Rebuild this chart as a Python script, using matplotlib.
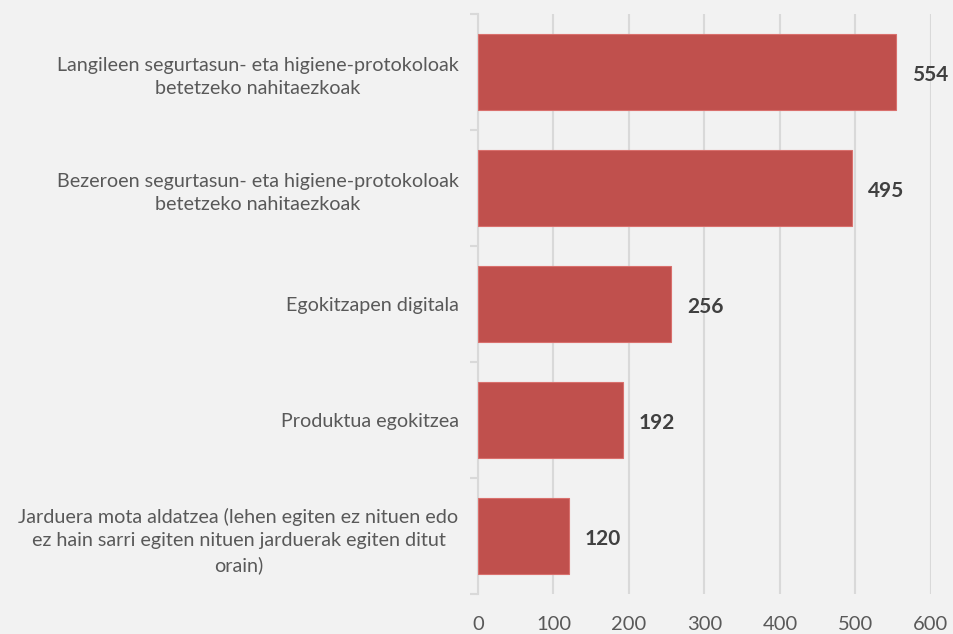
import matplotlib
matplotlib.use("Agg")
import matplotlib.pyplot as plt
from matplotlib.ticker import FixedLocator

categories = [
    "Langileen segurtasun- eta higiene-protokoloak\nbetetzeko nahitaezkoak",
    "Bezeroen segurtasun- eta higiene-protokoloak\nbetetzeko nahitaezkoak",
    "Egokitzapen digitala",
    "Produktua egokitzea",
    "Jarduera mota aldatzea (lehen egiten ez nituen edo\nez hain sarri egiten nituen jarduerak egiten ditut\norain)",
]
values = [554, 495, 256, 192, 120]
xticks = [0, 100, 200, 300, 400, 500, 600]

plt.rcParams['font.family'] = ['Lato', 'DejaVu Sans']
bg = '#f2f2f2'
fig = plt.figure(figsize=(9.54, 6.34), dpi=100, facecolor=bg)
ax = fig.add_axes([478/954, 1-594/634, (931-478)/954, (594-14)/634])
ax.set_facecolor(bg)

n = len(categories)
ypos = list(range(n))
ax.barh(ypos, values, height=0.66, color='#c0504d', edgecolor='#d9706d', linewidth=0.8, zorder=3)
ax.set_ylim(n - 0.5, -0.5)
ax.set_xlim(0, 600)
ax.xaxis.set_major_locator(FixedLocator(xticks))
ax.set_xticklabels([str(t) for t in xticks])
ax.grid(axis='x', color='#d9d9d9', linewidth=1.5, zorder=0)
ax.tick_params(axis='x', length=0, labelsize=14.5, labelcolor='#595959', pad=16)

ax.set_yticks(ypos)
ax.set_yticklabels(categories, fontsize=14.2, color='#595959', linespacing=1.45)
ax.yaxis.set_minor_locator(FixedLocator([i - 0.5 for i in range(n + 1)]))
ax.tick_params(axis='y', which='major', length=0, pad=14)
ax.tick_params(axis='y', which='minor', length=6, color='#d9d9d9', width=1.5)
for lbl in ax.get_yticklabels():
    lbl.set_horizontalalignment('right')
    lbl.set_multialignment('center')

for s in ['top', 'right', 'bottom']:
    ax.spines[s].set_visible(False)
ax.spines['left'].set_color('#d9d9d9')
ax.spines['left'].set_linewidth(1.5)

for y, v in zip(ypos, values):
    ax.text(v + 21, y + 0.03, str(v), va='center', ha='left', fontsize=15,
            fontweight='bold', color='#404040', zorder=4)

fig.savefig('out.png', dpi=100, facecolor=bg)
